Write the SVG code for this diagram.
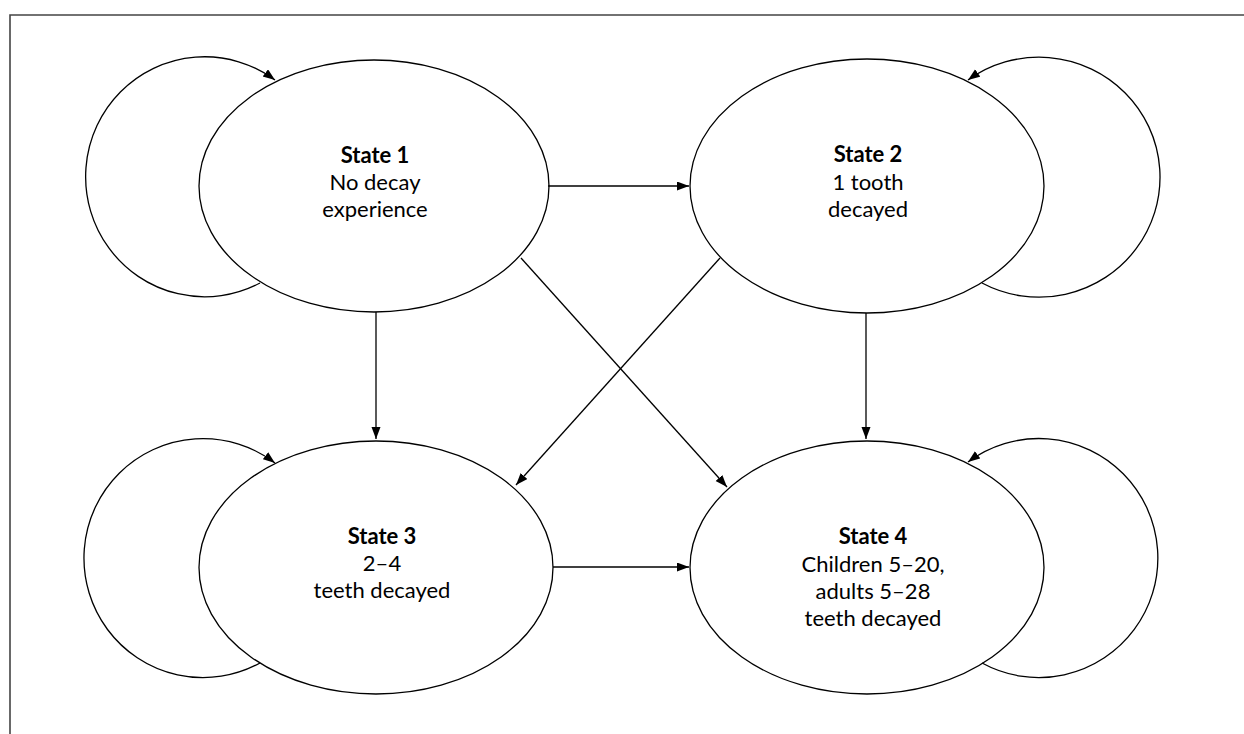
<svg xmlns="http://www.w3.org/2000/svg" width="1244" height="734" viewBox="0 0 1244 734">
<style>
.frame{fill:none;stroke:#444;stroke-width:1.6}
.node{fill:#fff;stroke:#000;stroke-width:1.3}
.edge{fill:none;stroke:#000;stroke-width:1.3;marker-end:url(#arr)}
text{font-family:Lato,"Liberation Sans",sans-serif;font-size:22px;text-anchor:middle;fill:#000}
.b{font-weight:bold}
</style>
<defs>
<marker id="arr" markerUnits="userSpaceOnUse" markerWidth="13" markerHeight="10" refX="12" refY="4.5" orient="auto">
<path d="M0,0 L12,4.5 L0,9 z" fill="#000"/>
</marker>
</defs>
<rect width="1244" height="734" fill="#fff"/>
<path class="frame" d="M10,734 V15 H1244"/>
<g id="state1">
<ellipse class="node" cx="374" cy="186" rx="175" ry="126"/>
<text x="375" y="163" class="b">State 1</text>
<text x="375" y="190">No decay</text>
<text x="375" y="217">experience</text>
</g>
<g id="state2">
<ellipse class="node" cx="867" cy="186" rx="177" ry="127"/>
<text x="868" y="162" class="b">State 2</text>
<text x="868" y="190">1 tooth</text>
<text x="868" y="217">decayed</text>
</g>
<g id="state3">
<ellipse class="node" cx="376" cy="567.5" rx="177" ry="126.5"/>
<text x="382" y="544" class="b">State 3</text>
<text x="382" y="571">2–4</text>
<text x="382" y="598">teeth decayed</text>
</g>
<g id="state4">
<ellipse class="node" cx="867" cy="567.5" rx="177" ry="126.5"/>
<text x="873" y="544" class="b">State 4</text>
<text x="873" y="572">Children 5–20,</text>
<text x="873" y="599">adults 5–28</text>
<text x="873" y="626">teeth decayed</text>
</g>
<g id="connectors">
<path class="edge" d="M260,283 A119,120 0 1 1 275,80"/>
<path class="edge" d="M982,283 A121,120 0 1 0 968,80"/>
<path class="edge" d="M260,663 A119,119.5 0 1 1 275,463"/>
<path class="edge" d="M982,663 A119,119.5 0 1 0 968,462"/>
<path class="edge" d="M548,186 H689"/>
<path class="edge" d="M376,312 V439"/>
<path class="edge" d="M866,313 V439"/>
<path class="edge" d="M553,567 H689"/>
<path class="edge" d="M521,258 L727,487"/>
<path class="edge" d="M720,258 L516,485"/>
</g>
</svg>
